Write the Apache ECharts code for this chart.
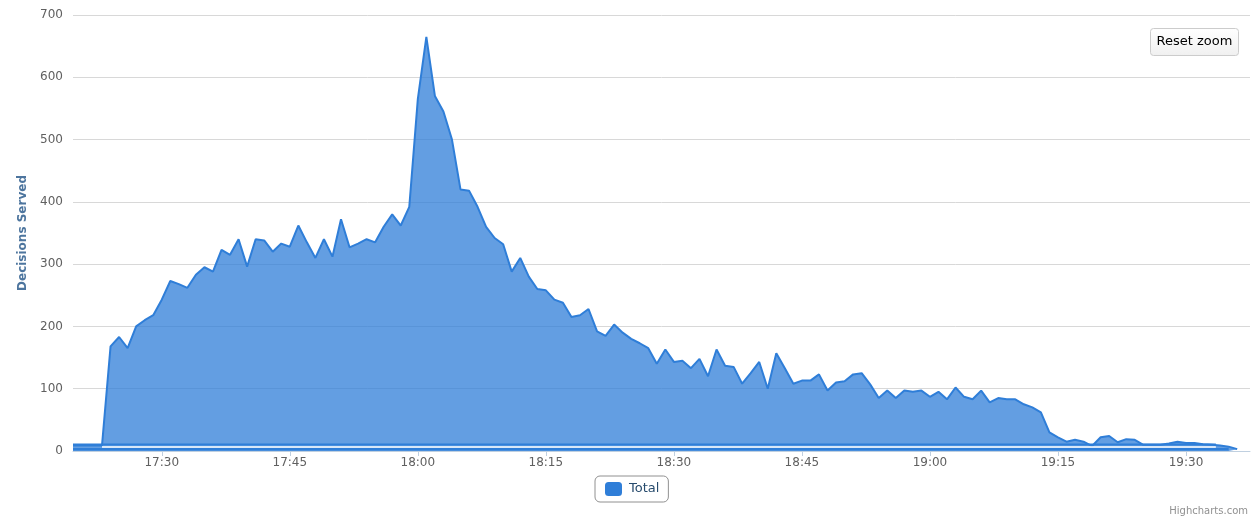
<!DOCTYPE html>
<html>
<head>
<meta charset="utf-8">
<script src="https://cdn.jsdelivr.net/npm/echarts@6/dist/echarts.min.js"></script>
<style>
html,body{margin:0;padding:0;background:#fff;}
#chart{width:1251px;height:522px;}
</style>
</head>
<body>
<div id="chart"></div>
<script>
// ---- data ----
const times = ['17:19.6','17:20','17:21','17:22','17:23','17:24','17:25','17:26','17:27','17:28','17:29',
'17:30','17:31','17:32','17:33','17:34','17:35','17:36','17:37','17:38','17:39',
'17:40','17:41','17:42','17:43','17:44','17:45','17:46','17:47','17:48','17:49',
'17:50','17:51','17:52','17:53','17:54','17:55','17:56','17:57','17:58','17:59',
'18:00','18:01','18:02','18:03','18:04','18:05','18:06','18:07','18:08','18:09',
'18:10','18:11','18:12','18:13','18:14','18:15','18:16','18:17','18:18','18:19',
'18:20','18:21','18:22','18:23','18:24','18:25','18:26','18:27','18:28','18:29',
'18:30','18:31','18:32','18:33','18:34','18:35','18:36','18:37','18:38','18:39',
'18:40','18:41','18:42','18:43','18:44','18:45','18:46','18:47','18:48','18:49',
'18:50','18:51','18:52','18:53','18:54','18:55','18:56','18:57','18:58','18:59',
'19:00','19:01','19:02','19:03','19:04','19:05','19:06','19:07','19:08','19:09',
'19:10','19:11','19:12','19:13','19:14','19:15','19:16','19:17','19:18','19:19',
'19:20','19:21','19:22','19:23','19:24','19:25','19:26','19:27','19:28','19:29',
'19:30','19:31','19:32','19:33','19:34','19:35','19:36'];
const totalValues = [9,9,9,9,9,168,183,165,200,210,218,
243,273,268,262,283,295,288,323,315,340,
296,340,338,320,333,328,362,335,310,340,
312,372,327,333,340,335,360,380,362,392,
565,665,570,545,500,420,418,392,360,342,
332,288,310,280,260,258,243,238,215,218,
228,192,185,203,190,180,173,165,140,163,
143,145,133,148,120,163,137,135,108,125,
143,100,157,133,108,113,113,123,97,110,
112,123,125,107,85,97,85,97,95,97,
87,95,83,102,87,83,97,78,85,83,
83,75,70,62,30,22,15,18,15,8,
22,24,14,19,18,10,10,10,12,15,
13,13,11,10,9,7,3];
// near-zero reference lines visible along the base of the chart
const upperLineTimes = ['17:19.6','19:33.5'];
const upperLineValues = [10.5,10.5];
const whiteLineTimes = ['17:23','19:33.5'];
const whiteLineValues = [6.5,6.5];
const lowerLineTimes = ['17:19.6','19:35'];
const lowerLineValues = [3,3];
const tickLabels = ['17:30','17:45','18:00','18:15','18:30','18:45','19:00','19:15','19:30'];
const yTicks = [0,100,200,300,400,500,600,700];

// ---- helpers ----
function toMin(s){const p=s.split(':');return (+p[0])*60+(+p[1]);}
function fmt(m){const h=Math.floor(m/60),mm=Math.round(m-h*60);return h+':'+(mm<10?'0':'')+mm;}
function pairs(ts,vs){return ts.map((t,i)=>[toMin(t),vs[i]]);}

const font = 'DejaVu Sans';
const blue = '#2f7ed8';
const chart = echarts.init(document.getElementById('chart'));
chart.setOption({
  animation:false,
  backgroundColor:'#ffffff',
  title:{
    text:'Decisions Served Per Minute',
    left:520, top:-17,
    textStyle:{color:'#274b6d',fontSize:16,fontWeight:'normal',fontFamily:font}
  },
  grid:{left:73,right:1,top:15,bottom:71,containLabel:false},
  legend:{
    data:['Total'],
    left:595, top:476,
    orient:'horizontal',
    icon:'roundRect',
    itemWidth:17, itemHeight:14,
    padding:[6,9,6,10],
    borderColor:'#909090', borderWidth:1, borderRadius:5,
    textStyle:{color:'#274b6d',fontSize:13,fontFamily:font,padding:[0,0,0,2]}
  },
  xAxis:{
    type:'value',
    min:1039.6, max:1177.5,
    axisLine:{show:true,lineStyle:{color:'#c0d0e0',width:1}},
    axisTick:{show:true,length:5,lineStyle:{color:'#c0d0e0'},customValues:tickLabels.map(toMin)},
    axisLabel:{
      color:'#606060',fontSize:12,fontFamily:font,margin:6,
      customValues:tickLabels.map(toMin),
      formatter:v=>fmt(v)
    },
    splitLine:{show:false}
  },
  yAxis:{
    type:'value',
    min:yTicks[0], max:yTicks[yTicks.length-1], interval:100,
    name:'Decisions Served',
    nameLocation:'middle',
    nameGap:41,
    nameTextStyle:{color:'#4d759e',fontSize:12,fontWeight:'bold',fontFamily:font},
    axisLine:{show:false},
    axisTick:{show:false},
    axisLabel:{color:'#606060',fontSize:12,fontFamily:font,margin:10},
    splitLine:{lineStyle:{color:'#d8d8d8',width:1}}
  },
  series:[
    {
      name:'Total', type:'line',
      data:pairs(times,totalValues),
      showSymbol:false, symbol:'none',
      itemStyle:{color:blue},
      lineStyle:{color:blue,width:2},
      areaStyle:{color:blue,opacity:0.75},
      z:2
    },
    {
      name:'lower', type:'line', data:pairs(lowerLineTimes,lowerLineValues),
      symbol:'none', lineStyle:{color:blue,width:2.5}, z:3, silent:true
    },
    {
      name:'white', type:'line', data:pairs(whiteLineTimes,whiteLineValues),
      symbol:'none', lineStyle:{color:'#ffffff',width:1.5}, z:4, silent:true
    },
    {
      name:'upper', type:'line', data:pairs(upperLineTimes,upperLineValues),
      symbol:'none', lineStyle:{color:blue,width:2}, z:5, silent:true
    }
  ],
  graphic:[
    {
      type:'group', left:1150, top:28,
      children:[
        {type:'rect',shape:{x:0,y:0,width:88,height:27,r:3},
         style:{fill:new echarts.graphic.LinearGradient(0,0,0,1,[{offset:0,color:'#ffffff'},{offset:1,color:'#f0f0f0'}]),stroke:'#cccccc',lineWidth:1}},
        {type:'text',x:44,y:13.5,style:{text:'Reset zoom',fill:'#000000',font:'13px "DejaVu Sans"',align:'center',verticalAlign:'middle'}}
      ]
    },
    {
      type:'text', right:3, top:506,
      style:{text:'Highcharts.com',fill:'#909090',font:'10px "DejaVu Sans"'}
    }
  ]
});
</script>
</body>
</html>
